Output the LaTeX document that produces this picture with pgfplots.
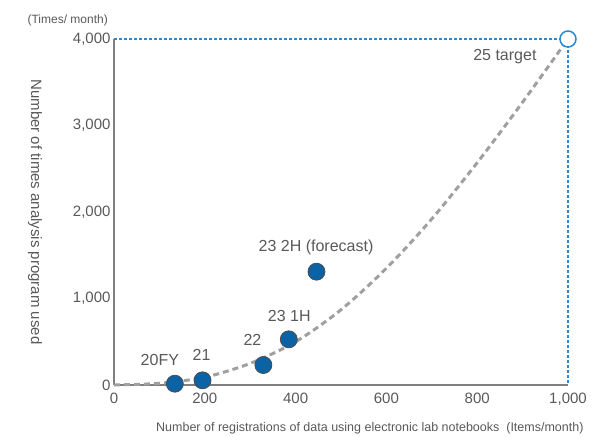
\documentclass[border=0pt]{standalone}
\usepackage{pgfplots}
\pgfplotsset{compat=1.18}
\usepackage{fontspec}
\setmainfont{Liberation Sans}
\definecolor{txt}{HTML}{595959}
\definecolor{axisgray}{HTML}{7F7F7F}
\definecolor{ptblue}{HTML}{0B63A6}
\definecolor{guideblue}{HTML}{2E88D0}
\definecolor{curvegray}{HTML}{A0A0A0}
\begin{document}
\begin{tikzpicture}
\begin{axis}[
  at={(0,0)}, anchor=south west,
  scale only axis, width=454pt, height=346pt,
  xmin=0, xmax=1000, ymin=0, ymax=4000,
  axis x line*=bottom, axis y line*=left,
  axis line style={axisgray, line width=1.3pt},
  major tick length=0pt,
  xtick={0,200,...,1000}, ytick={0,1000,...,4000},
  /pgf/number format/assume math mode=true,
  /pgf/number format/1000 sep={,},
  ticklabel style={font=\fontsize{15}{17}\selectfont, text=txt},
  xticklabel style={yshift=-4pt},
  clip=false,
]
\addplot[only marks, mark=*, mark size=8.5pt,
  mark options={fill=ptblue, draw=black!70, line width=0.8pt}]
  coordinates {(134,15) (195,54) (329,231) (385,528) (446,1310)};
\addplot[guideblue, line width=1.2pt, dash pattern=on 3pt off 2pt]
  coordinates {(0,4000) (1000,4000) (1000,0)};
\addplot[curvegray, line width=3pt, dash pattern=on 6pt off 4pt, smooth]
  coordinates {(0,0) (100,20) (200,90) (300,250) (400,500) (500,870) (600,1350) (700,1920) (800,2570) (900,3270) (1000,4000)};
\addplot[only marks, mark=*, mark size=8pt,
  mark options={fill=white, draw=guideblue, line width=1.5pt}]
  coordinates {(1000,4000)};
\begin{scope}[every node/.style={font=\fontsize{16}{18}\selectfont, text=txt, inner sep=0pt}]
\node at (axis cs:101,289) {20FY};
\node at (axis cs:193,347) {21};
\node at (axis cs:305,520) {22};
\node at (axis cs:386,798) {23 1H};
\node at (axis cs:445,1592) {23 2H (forecast)};
\node at (axis cs:861,3796) {25 target};
\end{scope}
\end{axis}
\node[rotate=-90, inner sep=0pt, text=txt, font=\fontsize{15}{17}\selectfont] at (-79pt,173pt) {Number of times analysis program used};
\node[anchor=west, inner sep=0pt, text=txt, font=\fontsize{12.5}{15}\selectfont] at (42pt,-43pt) {Number of registrations of data using electronic lab notebooks\ \ (Items/month)};
\node[anchor=east, inner sep=0pt, text=txt, font=\fontsize{12}{14}\selectfont] at (-6pt,365pt) {(Times/ month)};
\pgfresetboundingbox
\path[use as bounding box] (-114pt,-51pt) rectangle (487pt,385pt);
\end{tikzpicture}
\end{document}
